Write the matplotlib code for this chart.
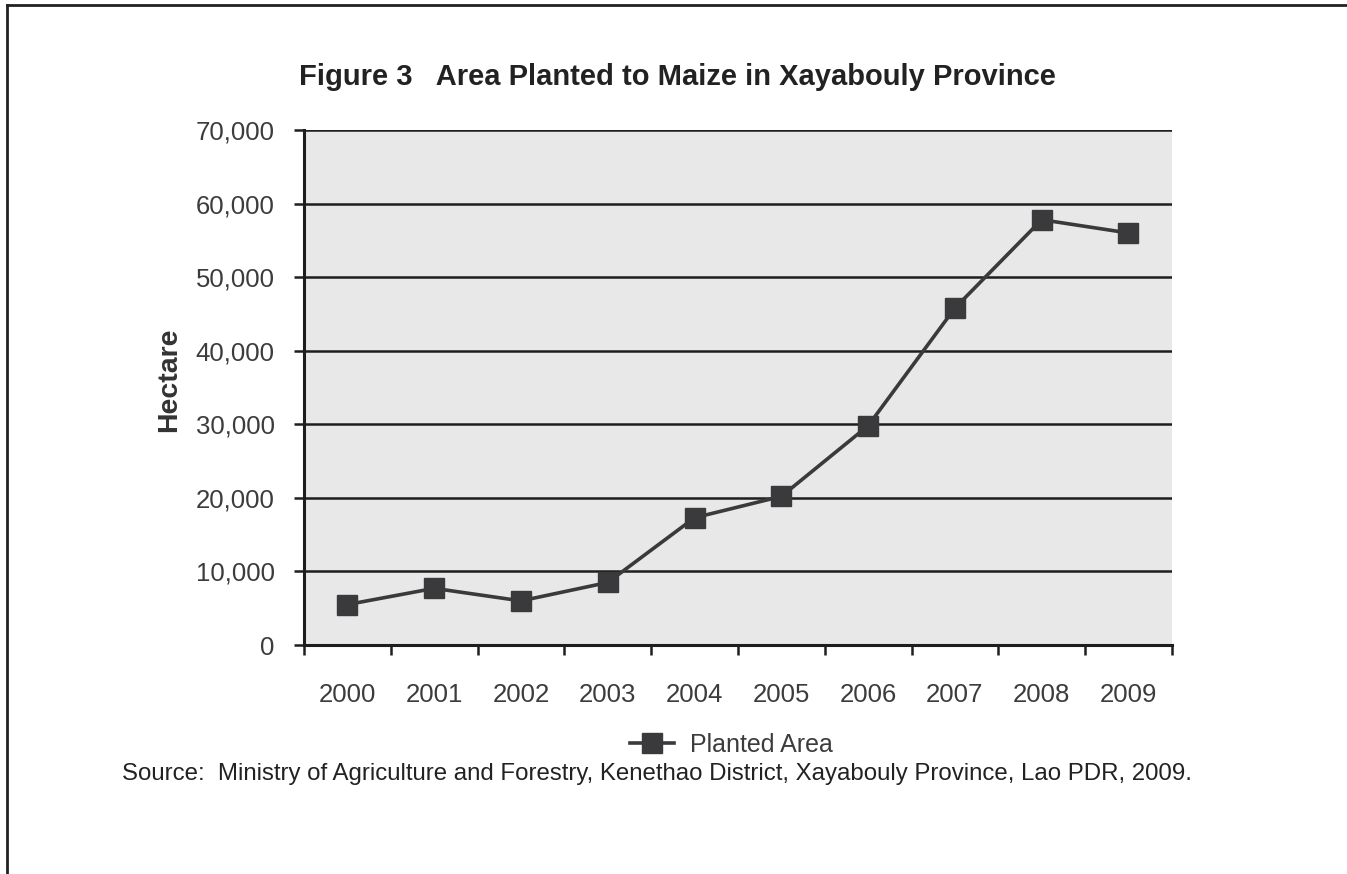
import matplotlib.pyplot as plt
from matplotlib.lines import Line2D
from matplotlib.ticker import FuncFormatter, FixedLocator

plt.rcParams['font.family'] = ['Liberation Sans', 'DejaVu Sans']

years = ['2000', '2001', '2002', '2003', '2004', '2005', '2006', '2007', '2008', '2009']
planted_area = [5500, 7700, 6000, 8500, 17300, 20200, 29800, 45800, 57800, 56000]
y_ticks = [0, 10000, 20000, 30000, 40000, 50000, 60000, 70000]

line_color = '#3a3a3c'
text_color = '#3c3c3c'
dark = '#1e1e1e'

fig = plt.figure(figsize=(13.47, 8.74), dpi=100)
ax = fig.add_axes([0.2257, 0.262, 0.8700 - 0.2257, 0.8513 - 0.262])
ax.set_facecolor('#e8e8e8')

x = list(range(len(years)))
ax.plot(x, planted_area, color=line_color, lw=2.6, marker='s', ms=15,
        markerfacecolor=line_color, markeredgecolor=line_color, zorder=5,
        label='Planted Area')

ax.set_xlim(-0.5, len(years) - 0.5)
ax.set_ylim(0, 70000)

# horizontal grid lines drawn by hand so they sit under the series
for v in y_ticks[1:]:
    ax.axhline(v, color=dark, lw=1.8, zorder=2)

ax.set_yticks(y_ticks)
ax.yaxis.set_major_formatter(FuncFormatter(lambda v, p: f'{int(v):,}'))
ax.tick_params(axis='y', direction='out', length=7, width=1.8, color=dark,
               pad=14, labelsize=18.5, labelcolor=text_color)

# x ticks between categories, labels centred on categories
ax.xaxis.set_major_locator(FixedLocator([i - 0.5 for i in range(len(years) + 1)]))
ax.xaxis.set_minor_locator(FixedLocator(x))
ax.set_xticklabels([])
ax.set_xticklabels(years, minor=True)
ax.tick_params(axis='x', which='major', direction='out', length=7, width=1.8, color=dark)
ax.tick_params(axis='x', which='minor', length=0, pad=27, labelsize=18.5, labelcolor=text_color)

for side in ['top', 'right']:
    ax.spines[side].set_visible(False)
ax.spines['left'].set_color(dark)
ax.spines['left'].set_linewidth(2.2)
ax.spines['bottom'].set_color(dark)
ax.spines['bottom'].set_linewidth(2.2)

ax.set_ylabel('Hectare', fontsize=20.5, fontweight='bold', color='#333333')
ax.yaxis.set_label_coords(-0.141, 0.515)

leg = ax.legend(loc='center', bbox_to_anchor=(0.4925, -0.194), frameon=False,
                fontsize=18, handlelength=1.76, handletextpad=0.64,
                labelcolor=text_color)

fig.text(0.503, 0.912, 'Figure 3   Area Planted to Maize in Xayabouly Province',
         ha='center', va='center', fontsize=21, fontweight='bold', color='#222222')

fig.text(0.0906, 0.1144,
         'Source:  Ministry of Agriculture and Forestry, Kenethao District, '
         'Xayabouly Province, Lao PDR, 2009.',
         ha='left', va='center', fontsize=17.3, color='#222222')

# page frame along the top and left edges
fig.add_artist(Line2D([0.0052, 1.0], [0.9943, 0.9943], color='#222222', lw=2.0,
                      transform=fig.transFigure))
fig.add_artist(Line2D([0.0052, 0.0052], [0.0, 0.9943], color='#222222', lw=2.0,
                      transform=fig.transFigure))

fig.savefig('out.png', dpi=100)
